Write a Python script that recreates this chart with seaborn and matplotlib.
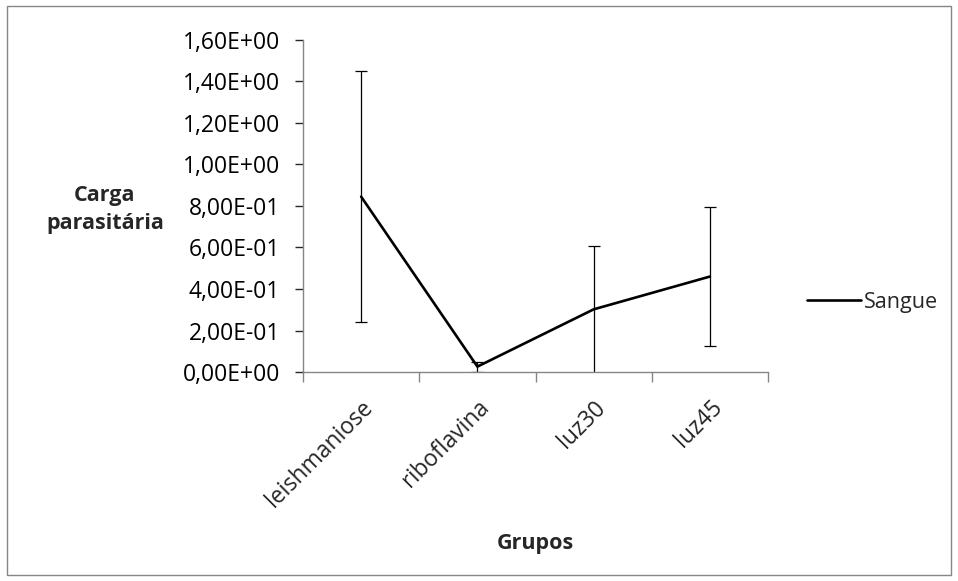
import matplotlib
matplotlib.use("Agg")
import matplotlib.pyplot as plt
import seaborn as sns
import pandas as pd
import numpy as np
from matplotlib.ticker import FixedLocator, FuncFormatter

# Parasite load in blood per group, with error (± SD)
grupos = ["leishmaniose", "riboflavina", "luz30", "luz45"]
carga = [0.845, 0.026, 0.302, 0.460]
erro = [0.605, 0.024, 0.305, 0.335]
y_ticks = [0.0, 0.2, 0.4, 0.6, 0.8, 1.0, 1.2, 1.4, 1.6]

sns.set_theme(style="white")
plt.rcParams["font.family"] = ["Open Sans", "DejaVu Sans"]

df = pd.DataFrame({"Grupos": grupos, "Carga": carga, "Erro": erro, "Serie": "Sangue"})
df["pos"] = np.arange(len(grupos))

fig = plt.figure(figsize=(9.58, 5.81), dpi=100)
fig.patch.set_facecolor("white")
ax = fig.add_axes([0.3163, 0.3597, 0.4854, 0.5715])

# error bars first, then the series line on top
ax.errorbar(df["pos"], df["Carga"], yerr=df["Erro"], fmt="none",
            ecolor="black", elinewidth=0.9, capsize=4.3, capthick=0.9, zorder=2)
sns.lineplot(data=df, x="pos", y="Carga", hue="Serie", palette=["black"],
             linewidth=1.9, ax=ax, zorder=3, sort=False)

ax.set_xlim(-0.5, len(grupos) - 0.5)
ax.set_ylim(0, 1.6)

grey = "#868686"
for side in ["top", "right"]:
    ax.spines[side].set_visible(False)
for side in ["left", "bottom"]:
    ax.spines[side].set_color(grey)
    ax.spines[side].set_linewidth(1.0)


def fmt_sci(v, p):
    if v == 0:
        return "0,00E+00"
    e = int(np.floor(np.log10(abs(v)) + 1e-9))
    m = v / 10 ** e
    return f"{m:.2f}".replace(".", ",") + f"E{e:+03d}"


ax.yaxis.set_major_locator(FixedLocator(y_ticks))
ax.yaxis.set_major_formatter(FuncFormatter(fmt_sci))
ax.tick_params(axis="y", which="major", left=True, length=5.5, width=1.0,
               labelsize=16.5, pad=11, labelcolor="black")
for t in ax.get_yticklines():
    t.set_color(grey)

ax.set_xticks(df["pos"])
ax.set_xticklabels(grupos, rotation=45, ha="right", rotation_mode="anchor", fontsize=16.5)
ax.tick_params(axis="x", which="major", bottom=False, length=0, pad=17)
ax.set_xticks(np.arange(-0.5, len(grupos)), minor=True)
ax.tick_params(axis="x", which="minor", bottom=True, length=7, width=1.0, color=grey)

ax.set_xlabel("Grupos", fontsize=15.5, fontweight="bold", va="center")
ax.xaxis.set_label_coords(0.5, -0.515)
ax.set_ylabel("Carga\nparasitária", fontsize=15.5, fontweight="bold", rotation=0,
              ha="center", va="center", linespacing=1.45)
ax.yaxis.set_label_coords(-0.426, 0.49)

handles, labels = ax.get_legend_handles_labels()
ax.legend(handles, labels, loc="center left", bbox_to_anchor=(1.065, 0.21), frameon=False,
          fontsize=15.5, handlelength=2.5, handletextpad=0.15, borderaxespad=0)

# outer chart border
fig.add_artist(plt.Rectangle((7 / 958, 6 / 581), 944 / 958, 569 / 581, transform=fig.transFigure,
                             fill=False, edgecolor=grey, linewidth=1.0))

fig.savefig("out.png", dpi=100, facecolor="white")
